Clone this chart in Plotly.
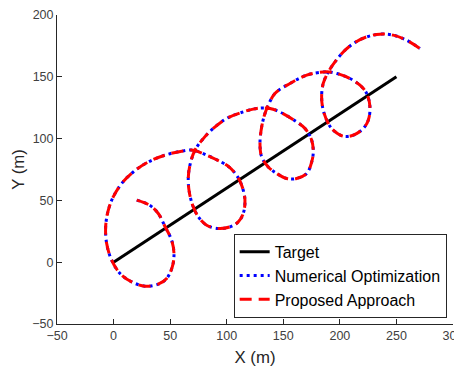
import plotly.graph_objects as go

# Target trajectory (straight line)
target_x = [0, 250]
target_y = [0, 150]

# Loitering path (both methods essentially coincide)
path_x = [20.5, 32, 39.5, 45.4, 51.3, 53.4, 51.9, 46.9, 39.5, 27.8, 16, 5.7, -1.7, -6.1, -7, -4.7,
          -0.3, 7.2, 17.4, 30.7, 45.4, 60.2, 70.4, 82.3, 90.2, 102, 108.8, 113.2, 116.1, 114.6,
          110.2, 102.9, 92.5, 82.3, 74.9, 69.9, 66.9, 66, 67.5, 71.9, 79.3, 88.1, 100, 114.6,
          126.5, 138.2, 147.1, 161.8, 169.2, 175.1, 176.5, 175.1, 170.7, 161.8, 153, 144.2,
          136.7, 130.9, 129.4, 130.9, 133.8, 136.7, 142.6, 155.9, 170.7, 188.3, 197.2, 209,
          217.8, 223.7, 226.6, 225.1, 220.7, 211.9, 203, 194.2, 189.8, 185.3, 183.9, 185.3,
          189.8, 195.7, 203, 211.9, 223.7, 235.5, 247.2, 259, 270.8]
path_y = [50.2, 46, 39.4, 29, 17.8, 7, -3.8, -13.2, -17.8, -19.4, -15.9, -9.1, 1.6, 15.1, 28.6, 42,
          52.8, 63.7, 73, 81.1, 86.6, 89.8, 90.6, 86.6, 83.3, 77.1, 70.2, 62.3, 50.5, 39.4,
          32.6, 28.6, 27.3, 29.9, 36.7, 46.1, 56.9, 67.7, 78.5, 90.6, 100, 108.2, 116.3, 121.6,
          124.4, 124.4, 121.5, 113.5, 108.2, 98.7, 89.2, 81.1, 71.8, 67.7, 67.7, 71.8,
          77.1, 85.2, 96, 109.5, 120.3, 127, 136.5, 144.6, 151.3, 154, 152.7, 148.6,
          143.2, 136.5, 125.6, 114.9, 108.2, 102.8, 101.9, 106.8, 112.2, 123, 133.7, 144.6,
          154, 162, 170.1, 176.9, 182.3, 184.5, 183.7, 179.6, 172.9]

numopt_x, numopt_y = path_x, path_y
proposed_x, proposed_y = path_x, path_y

x_ticks = [-50, 0, 50, 100, 150, 200, 250, 300]
y_ticks = [-50, 0, 50, 100, 150, 200]

FONT = "Liberation Sans, Arial, Helvetica"

fig = go.Figure()
fig.add_trace(go.Scatter(x=target_x, y=target_y, mode="lines", name="Target",
                         line=dict(color="black", width=3)))
fig.add_trace(go.Scatter(x=numopt_x, y=numopt_y, mode="lines", name="Numerical Optimization",
                         line=dict(color="#0000ff", width=3, dash="3px,4px", shape="spline")))
fig.add_trace(go.Scatter(x=proposed_x, y=proposed_y, mode="lines", name="Proposed Approach",
                         line=dict(color="#ff0000", width=3, dash="12px,7px", shape="spline")))

axis_common = dict(showgrid=False, zeroline=False, showline=True, linecolor="#262626",
                   linewidth=1, ticks="inside", ticklen=5, tickcolor="#262626",
                   tickfont=dict(family=FONT, size=12.5, color="#404040"),
                   mirror=False, automargin=False, ticklabeloverflow="allow")

fig.update_layout(
    width=454, height=362,
    margin=dict(l=49, r=9, t=7, b=46, autoexpand=False),
    paper_bgcolor="white", plot_bgcolor="white",
    xaxis=dict(range=[-50, 300], tickvals=x_ticks,
               title=dict(text="X (m)", standoff=9,
                          font=dict(family=FONT, size=16.8, color="#262626")),
               **axis_common),
    yaxis=dict(range=[-50, 200], tickvals=y_ticks,
               title=dict(text="Y (m)", standoff=3,
                          font=dict(family=FONT, size=16.8, color="#262626")),
               **axis_common),
    legend=dict(x=0.984, y=0.02, xanchor="right", yanchor="bottom",
                bordercolor="#262626", borderwidth=1, bgcolor="white",
                font=dict(family=FONT, size=16, color="black"),
                tracegroupgap=0),
    showlegend=True,
)

fig.write_html("out.html")
